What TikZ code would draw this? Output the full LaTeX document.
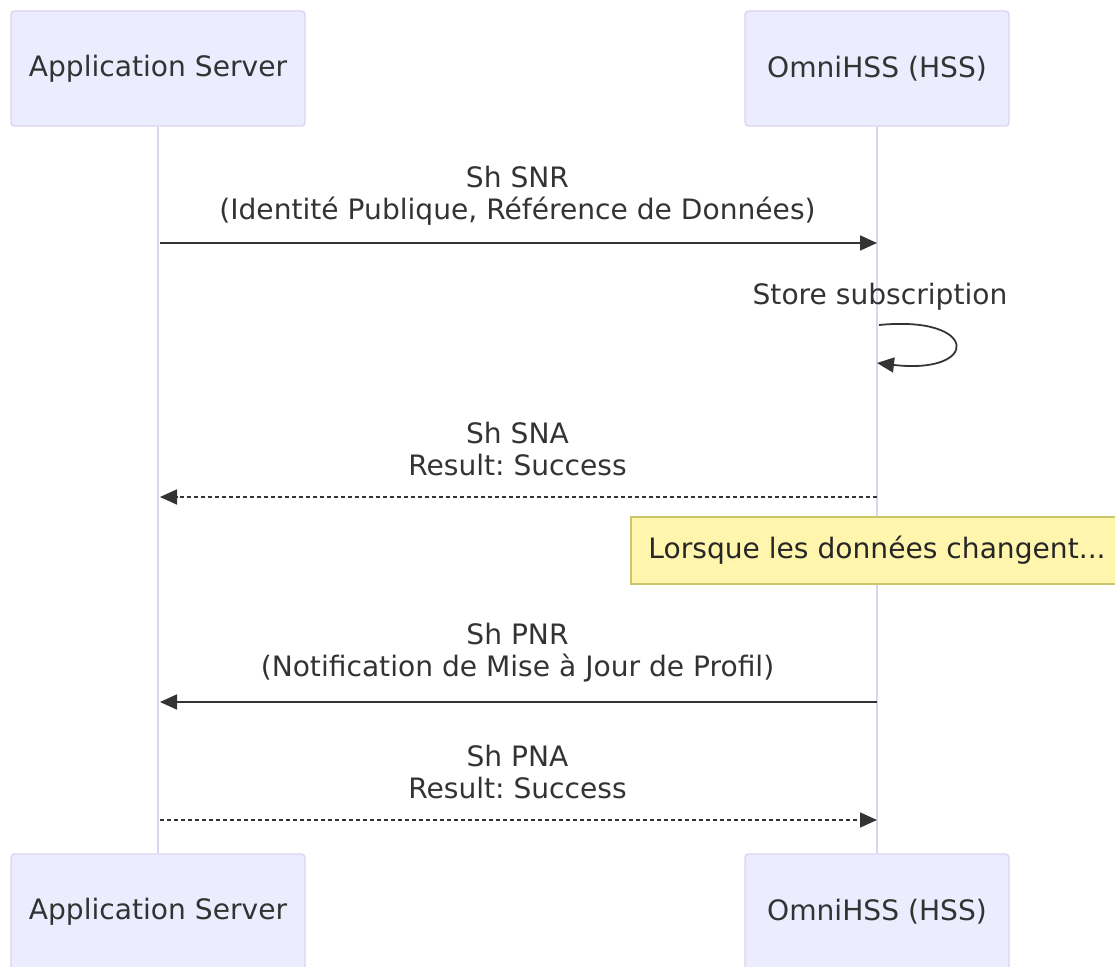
\documentclass[tikz,border=0pt]{standalone}
\usepackage{fontspec}
\setmainfont{DejaVu Sans}
\usetikzlibrary{arrows.meta}
\frenchspacing

\definecolor{actorfill}{HTML}{ECECFF}
\definecolor{actorline}{HTML}{DCD3F3}
\definecolor{inkgray}{HTML}{333333}
\definecolor{notefill}{HTML}{FFF5AD}
\definecolor{noteline}{HTML}{C9C76A}

\tikzset{
  actor/.style={draw=actorline,fill=actorfill,rounded corners=2pt,line width=0.8pt,
    minimum height=2.3cm,text=inkgray},
  lifeline/.style={draw=actorline,line width=1.2pt},
  msg/.style={draw=inkgray,line width=1pt,-{Triangle[length=3.4mm,width=3mm]}},
  reply/.style={msg,dash pattern=on 0.8mm off 0.6mm},
  msglabel/.style={text=inkgray,align=center},
  note/.style={draw=noteline,fill=notefill,line width=0.8pt,minimum width=9.84cm,
    minimum height=1.34cm,text=black!85}
}

\begin{document}
\begin{tikzpicture}[every node/.style={font=\fontsize{16}{18.2}\selectfont}]
  \useasboundingbox (0,0) rectangle (22.3,-19.34);
  % participants
  \node[actor,minimum width=5.88cm] (as)  at (3.16,-1.37)  {Application Server};
  \node[actor,minimum width=5.28cm] (hss) at (17.54,-1.37) {OmniHSS (HSS)};
  \node[actor,minimum width=5.88cm] (asb)  at (3.16,-18.23)  {Application Server};
  \node[actor,minimum width=5.28cm] (hssb) at (17.54,-18.23) {OmniHSS (HSS)};
  \draw[lifeline] (as) -- (asb);
  \draw[lifeline] (hss) -- (hssb);
  % message anchors on the lifelines
  \coordinate (as1)  at (3.2,-4.86);  \coordinate (hss1) at (17.54,-4.86);
  \coordinate (loopa) at (17.58,-6.5); \coordinate (loopb) at (17.54,-7.26);
  \coordinate (as2)  at (3.2,-9.94);  \coordinate (hss2) at (17.54,-9.94);
  \coordinate (as3)  at (3.2,-14.04); \coordinate (hss3) at (17.54,-14.04);
  \coordinate (as4)  at (3.2,-16.4);  \coordinate (hss4) at (17.54,-16.4);
  % messages
  \node[msglabel] (snr) at (10.35,-3.92) {Sh SNR\\(Identité Publique, Référence de Données)};
  \draw[msg] (as1) -- (hss1);
  \node[msglabel] (store) at (17.6,-5.94) {Store subscription};
  \draw[msg] (loopa) .. controls (19.6,-6.3) and (19.6,-7.5) .. (loopb);
  \node[msglabel] (sna) at (10.35,-8.98) {Sh SNA\\Result: Success};
  \draw[reply] (hss2) -- (as2);
  \node[note] (chg) at (17.54,-11.01) {Lorsque les données changent...};
  \node[msglabel] (pnr) at (10.35,-13.06) {Sh PNR\\(Notification de Mise à Jour de Profil)};
  \draw[msg] (hss3) -- (as3);
  \node[msglabel] (pna) at (10.35,-15.44) {Sh PNA\\Result: Success};
  \draw[reply] (as4) -- (hss4);
\end{tikzpicture}
\end{document}
